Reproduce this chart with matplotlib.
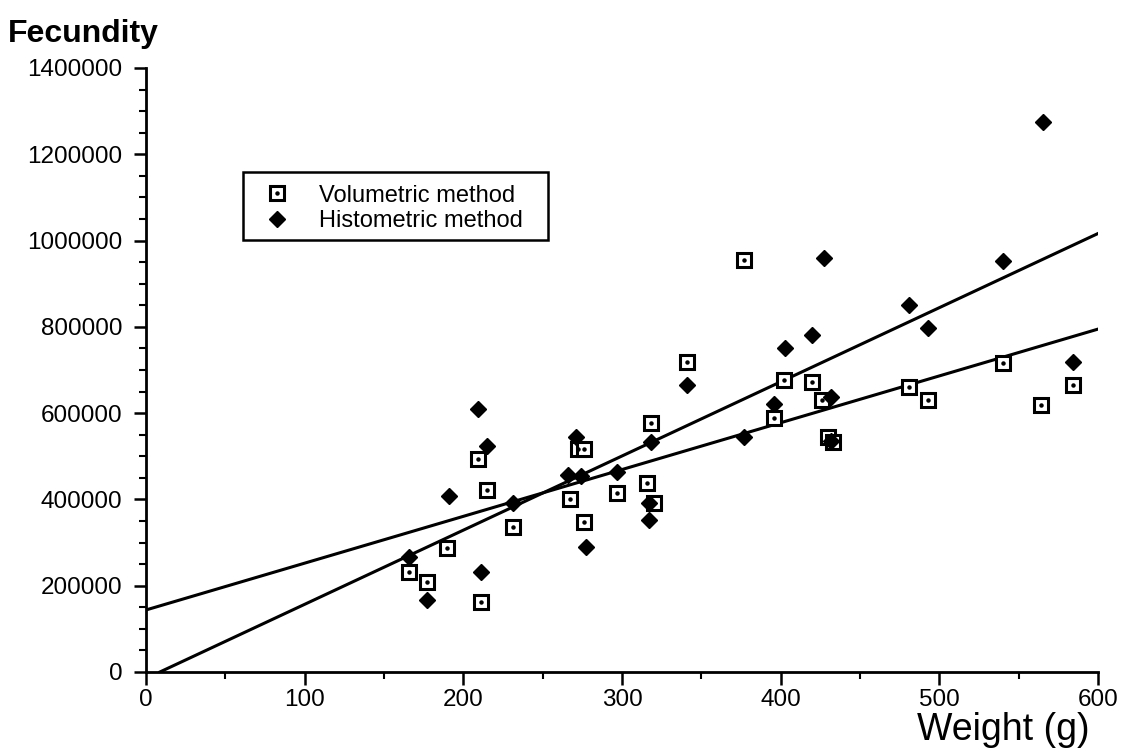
import numpy as np
import matplotlib
matplotlib.use("Agg")
import matplotlib.pyplot as plt
from matplotlib.patches import Rectangle
from matplotlib.ticker import MultipleLocator
from matplotlib.legend_handler import HandlerTuple

plt.rcParams["font.family"] = ["Liberation Sans", "DejaVu Sans"]

# ---- data (weight in g, fecundity in eggs)
vol_weight = [166, 177, 190, 209, 211, 215, 231, 267, 272, 276, 276, 297, 316, 318,
              320, 341, 377, 396, 402, 420, 426, 430, 433, 481, 493, 540, 564, 584]
vol_fecundity = [232000, 209000, 287000, 493000, 161000, 422000, 337000, 402000, 516000,
                 516000, 348000, 414000, 437000, 576000, 391000, 719000, 955000, 588000,
                 677000, 671000, 630000, 545000, 532000, 661000, 631000, 716000, 619000, 665000]

hist_weight = [166, 177, 191, 209, 211, 215, 231, 266, 271, 274, 277, 297, 318, 317,
               317, 341, 377, 396, 403, 420, 427, 432, 432, 481, 493, 540, 565, 584]
hist_fecundity = [267000, 167000, 408000, 609000, 232000, 524000, 391000, 457000, 545000,
                  455000, 289000, 463000, 534000, 391000, 352000, 665000, 545000, 620000,
                  750000, 781000, 960000, 638000, 535000, 851000, 798000, 953000, 1274000, 719000]

# regression lines (slope per g, intercept)
vol_fit = (1085, 143700)
hist_fit = (1719, -15100)

labels = ["Volumetric method", "Histometric method"]

fig = plt.figure(figsize=(11.32, 7.55), dpi=100)
ax = fig.add_axes([0.129, 0.110, 0.841, 0.800])

# ---- fitted lines
m, b = vol_fit
xs = np.array([0, 600])
ax.plot(xs, m * xs + b, color="black", lw=2.2, zorder=2)
m, b = hist_fit
xs = np.array([-b / m, 600])
ax.plot(xs, m * xs + b, color="black", lw=2.2, zorder=2)

# ---- points
sq = ax.plot(vol_weight, vol_fecundity, ls="none", marker="s", ms=9.5,
             mfc="white", mec="black", mew=2.2, zorder=3)[0]
dot = ax.plot(vol_weight, vol_fecundity, ls="none", marker="o", ms=2.2,
              mfc="black", mec="black", zorder=4)[0]
dia = ax.plot(hist_weight, hist_fecundity, ls="none", marker="D", ms=8.5,
              mfc="black", mec="black", zorder=3)[0]

# ---- axes cosmetics
ax.set_xlim(0, 600)
ax.set_ylim(0, 1400000)
ax.xaxis.set_major_locator(MultipleLocator(100))
ax.xaxis.set_minor_locator(MultipleLocator(50))
ax.yaxis.set_major_locator(MultipleLocator(200000))
ax.yaxis.set_minor_locator(MultipleLocator(50000))
for s in ("top", "right"):
    ax.spines[s].set_visible(False)
for s in ("left", "bottom"):
    ax.spines[s].set_linewidth(2.0)
ax.tick_params(which="major", length=9, width=1.8)
ax.tick_params(axis="y", which="major", labelsize=17.5, pad=8)
ax.tick_params(axis="x", which="major", labelsize=17.5, pad=3)
ax.tick_params(which="minor", length=5, width=1.5)
ax.yaxis.set_major_formatter(matplotlib.ticker.FuncFormatter(lambda v, p: f"{int(v)}"))

fig.text(0.007, 0.945, "Fecundity", fontsize=23, fontweight="bold", ha="left", va="baseline")
fig.text(0.963, 0.020, "Weight (g)", fontsize=27, ha="right", va="baseline")

# ---- legend in a square box
ax.add_patch(Rectangle((0.102, 0.715), 0.320, 0.113, transform=ax.transAxes,
                       fill=False, ec="black", lw=1.8, zorder=5))
ax.legend([(sq, dot), dia], labels, loc="upper left", bbox_to_anchor=(0.105, 0.838),
          frameon=False, fontsize=17, handlelength=1.0, handletextpad=1.3,
          labelspacing=0.15, borderpad=0.3,
          handler_map={tuple: HandlerTuple(ndivide=1, pad=0)})

fig.savefig("out.png", dpi=100)
